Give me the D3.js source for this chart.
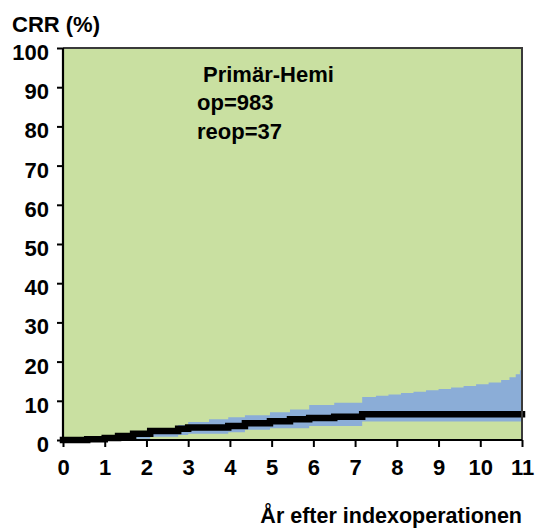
<!DOCTYPE html>
<html><head><meta charset="utf-8">
<script src="https://cdn.jsdelivr.net/npm/d3@7"></script>
<style>
html,body{margin:0;padding:0;background:#fff;}
svg{display:block;}
text{font-family:"Liberation Sans",Arial,sans-serif;font-weight:bold;fill:#000;}
</style></head>
<body>
<svg id="chart" width="536" height="531"></svg>
<script>
// Estimated cumulative reoperation rate (step function)
const estTime  = [0, 0.58, 1.0, 1.32, 1.68, 2.09, 2.76, 3.0, 3.96, 4.36, 4.96, 5.44, 5.9, 6.5, 7.17, 11];
const estValue = [0, 0.2, 0.5, 1.0, 1.6, 2.3, 2.9, 3.2, 3.6, 4.3, 4.8, 5.3, 5.6, 5.9, 6.6, 6.6];
// Confidence band, upper
const upTime  = [0, 0.58, 1.0, 1.32, 1.68, 2.09, 2.76, 3.0, 3.5, 3.96, 4.36, 4.96, 5.44, 5.9, 6.5, 7.17, 7.5, 7.8, 8.1, 8.4, 8.7, 9.0, 9.3, 9.6, 9.9, 10.2, 10.5, 10.7, 10.85, 10.95, 11];
const upValue = [0, 0.5, 1.0, 1.6, 2.3, 3.0, 3.8, 4.6, 5.3, 5.8, 6.3, 7.1, 7.8, 8.9, 9.5, 11.0, 11.3, 11.6, 12.0, 12.3, 12.7, 13.0, 13.4, 13.8, 14.2, 14.7, 15.3, 16.0, 16.8, 17.8, 18.6];
// Confidence band, lower
const loTime  = [0, 1.0, 1.68, 2.09, 2.76, 3.0, 3.96, 4.36, 4.96, 5.9, 7.17, 11];
const loValue = [0, 0.0, 0.3, 0.8, 1.3, 1.6, 2.0, 2.6, 3.0, 3.6, 4.7, 4.7];

const yTicks = [0,10,20,30,40,50,60,70,80,90,100];
const xTicks = [0,1,2,3,4,5,6,7,8,9,10,11];
const yTitle = "CRR (%)";
const xTitle = "År efter indexoperationen";
const annot = ["Primär-Hemi", "op=983", "reop=37"];

const svg = d3.select("#chart");
const L = 63, R = 522, T = 48, B = 440;
const x = d3.scaleLinear().domain([0, 11]).range([L, R]);
const y = d3.scaleLinear().domain([0, 100]).range([B, T]);

// plot background
svg.append("rect").attr("x", L).attr("y", T).attr("width", R - L).attr("height", B - T)
  .attr("fill", "#c9e0a1");

// CI band: build merged step series
function stepVal(ts, vs, t) {
  let v = vs[0];
  for (let i = 0; i < ts.length; i++) { if (ts[i] <= t) v = vs[i]; }
  return v;
}
const allT = Array.from(new Set(upTime.concat(loTime))).sort((a, b) => a - b);
const band = allT.map(t => ({t, lo: stepVal(loTime, loValue, t), hi: stepVal(upTime, upValue, t)}));
svg.append("path").datum(band)
  .attr("fill", "#8badd7")
  .attr("d", d3.area().curve(d3.curveStepAfter)
    .x(d => x(d.t)).y0(d => y(d.lo)).y1(d => y(d.hi)));

// estimate line
const est = estTime.map((t, i) => ({t, v: estValue[i]}));
svg.append("path").datum(est)
  .attr("fill", "none").attr("stroke", "#000").attr("stroke-width", 6.5)
  .attr("stroke-linecap", "square")
  .attr("d", d3.line().curve(d3.curveStepAfter).x(d => x(d.t)).y(d => y(d.v)));

// top & right border
svg.append("path").attr("d", `M${L},${T}H${R}V${B}`).attr("fill", "none")
  .attr("stroke", "#3a3a3a").attr("stroke-width", 2);

// axes
const yAxis = svg.append("g").attr("transform", `translate(${L},0)`)
  .call(d3.axisLeft(y).tickValues(yTicks).tickSize(6).tickPadding(8));
const xAxis = svg.append("g").attr("transform", `translate(0,${B})`)
  .call(d3.axisBottom(x).tickValues(xTicks).tickSize(7).tickPadding(12));
[yAxis, xAxis].forEach(g => {
  g.select(".domain").attr("stroke", "#000").attr("stroke-width", 2.2);
  g.selectAll(".tick line").attr("stroke", "#000").attr("stroke-width", 2);
  g.selectAll(".tick text").attr("font-size", 22).attr("font-family", "Liberation Sans, Arial, sans-serif")
    .attr("font-weight", "bold").attr("fill", "#000");
});
yAxis.select(".domain").attr("d", `M0,${T}V${B}`);
xAxis.select(".domain").attr("d", `M${L},0H${R}`);
yAxis.selectAll(".tick text").attr("dy", "0.52em");

svg.append("text").attr("x", 12).attr("y", 32).attr("font-size", 22).text(yTitle);
svg.append("text").attr("x", 522).attr("y", 523).attr("text-anchor", "end").attr("font-size", 21.5).text(xTitle);

const ay = [82, 110, 139];
annot.forEach((s, i) => {
  svg.append("text").attr("x", i === 0 ? 203 : 197).attr("y", ay[i]).attr("font-size", 22).text(s);
});
</script>
</body></html>
